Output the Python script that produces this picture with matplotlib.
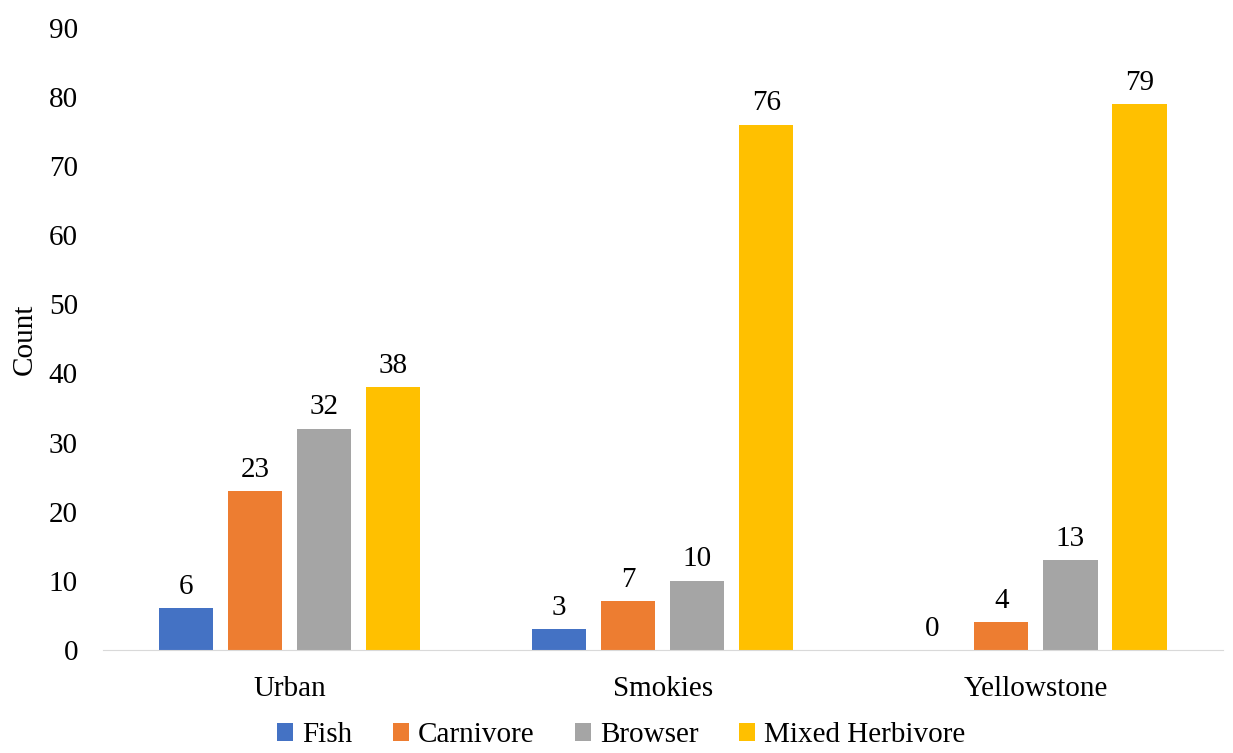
import numpy as np
import matplotlib.pyplot as plt

# --- data ---
sites = ["Urban", "Smokies", "Yellowstone"]
series = ["Fish", "Carnivore", "Browser", "Mixed Herbivore"]
fish = [6, 3, 0]
carnivore = [23, 7, 4]
browser = [32, 10, 13]
mixed_herbivore = [38, 76, 79]
colors = ["#4472C4", "#ED7D31", "#A5A5A5", "#FFC000"]

plt.rcParams['font.family'] = ['Liberation Serif', 'DejaVu Serif']
fs = 21

fig = plt.figure(figsize=(12.33, 7.53), dpi=100)
ax = fig.add_axes([0.0835, 0.137, 0.908, 0.826])

x = np.arange(len(sites))
step = 0.185
width = 0.145
values = [fish, carnivore, browser, mixed_herbivore]
for i, (name, vals, col) in enumerate(zip(series, values, colors)):
    pos = x + (i - 1.5) * step
    bars = ax.bar(pos, vals, width, color=col, label=name)
    ax.bar_label(bars, padding=6, fontsize=fs)

ax.set_xlim(-0.5, len(sites) - 0.5)
ax.set_ylim(0, 90)
ax.set_yticks(range(0, 91, 10))
ax.set_xticks(x)
ax.set_xticklabels(sites)
ax.tick_params(axis='both', length=0, labelsize=fs)
ax.tick_params(axis='y', pad=18)
ax.tick_params(axis='x', pad=19)
for s in ["top", "right", "left"]:
    ax.spines[s].set_visible(False)
ax.spines["bottom"].set_color("#D9D9D9")
ax.set_ylabel("Count", fontsize=fs, labelpad=8)

ax.legend(loc="upper center", bbox_to_anchor=(0.463, -0.088), ncol=4, frameon=False,
          fontsize=fs, handlelength=0.55, handleheight=0.55, handletextpad=0.3,
          columnspacing=1.4, borderpad=0.1)

fig.savefig("out.png", dpi=100)
